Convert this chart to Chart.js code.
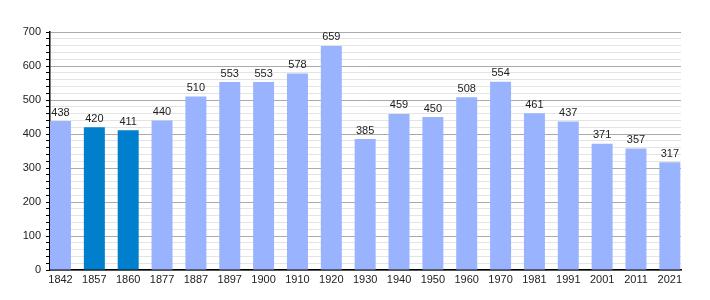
<!DOCTYPE html>
<html>
<head>
<meta charset="utf-8">
<script src="https://cdn.jsdelivr.net/npm/chart.js@4"></script>
<style>
  html, body { margin: 0; padding: 0; background: #fff; }
  #wrap { width: 710px; height: 300px; }
</style>
</head>
<body>
<div id="wrap"><canvas id="chart" width="710" height="300"></canvas></div>
<script>
// Population by census year
const years = ['1842', '1857', '1860', '1877', '1887', '1897', '1900', '1910', '1920', '1930',
               '1940', '1950', '1960', '1970', '1981', '1991', '2001', '2011', '2021'];
const population = [438, 420, 411, 440, 510, 553, 553, 578, 659, 385,
                    459, 450, 508, 554, 461, 437, 371, 357, 317];
const highlighted = ['1857', '1860'];
const yTicks = [0, 100, 200, 300, 400, 500, 600, 700];

const lightBlue = '#99b3ff';
const darkBlue = '#0080cc';

// draws the value above each bar
const valueLabels = {
    id: 'valueLabels',
    afterDatasetsDraw(chart) {
        const ctx = chart.ctx;
        const meta = chart.getDatasetMeta(0);
        ctx.save();
        ctx.font = '11px "Liberation Sans", Arial, sans-serif';
        ctx.fillStyle = '#222';
        ctx.textAlign = 'center';
        ctx.textBaseline = 'bottom';
        meta.data.forEach((bar, i) => {
            ctx.fillText(population[i], bar.x, bar.y - 3);
        });
        ctx.restore();
    }
};

new Chart(document.getElementById('chart'), {
    type: 'bar',
    data: {
        datasets: [{
            // x is the index into years, so the bars can sit flush against the axis
            data: population.map((v, i) => ({ x: i, y: v })),
            backgroundColor: years.map(y => highlighted.includes(y) ? darkBlue : lightBlue),
            barPercentage: 0.62,
            categoryPercentage: 1
        }]
    },
    options: {
        responsive: false,
        animation: false,
        layout: { padding: { left: 0, right: 29, top: 32, bottom: 8 } },
        plugins: {
            legend: { display: false },
            tooltip: { enabled: false }
        },
        scales: {
            x: {
                type: 'linear',
                min: -0.31,
                max: 18.33,
                offset: false,
                grid: { display: false, drawTicks: false },
                border: { color: '#000', width: 1.5 },
                ticks: {
                    color: '#222',
                    font: { family: '"Liberation Sans", Arial, sans-serif', size: 11 },
                    padding: 3,
                    maxRotation: 0,
                    autoSkip: false,
                    callback: v => years[v]
                },
                afterBuildTicks(scale) {
                    scale.ticks = years.map((_, i) => ({ value: i }));
                },
                afterFit(scale) { scale.height = 22; }
            },
            y: {
                min: 0,
                max: 700,
                ticks: {
                    stepSize: 20,
                    maxTicksLimit: 100,
                    autoSkip: false,
                    color: '#222',
                    padding: 5,
                    font: { family: '"Liberation Sans", Arial, sans-serif', size: 11 },
                    callback: v => yTicks.includes(v) ? v : ''
                },
                grid: {
                    color: c => (c.tick && c.tick.value % 100 === 0) ? '#aaaaaa' : '#e4e4e4',
                    tickColor: '#000',
                    tickLength: 4
                },
                border: { color: '#000', width: 1.5 },
                afterFit(scale) { scale.width = 50; }
            }
        }
    },
    plugins: [valueLabels]
});
</script>
</body>
</html>
